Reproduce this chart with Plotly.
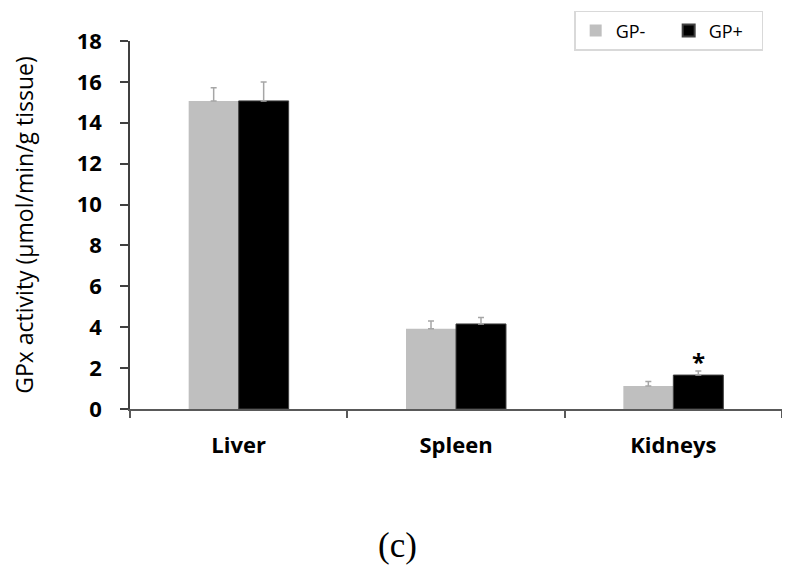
import plotly.graph_objects as go

categories = ["Liver", "Spleen", "Kidneys"]
gp_minus = [15.07, 3.93, 1.13]
gp_minus_err = [0.64, 0.37, 0.21]
gp_plus = [15.07, 4.16, 1.66]
gp_plus_err = [0.93, 0.31, 0.20]
y_ticks = [0, 2, 4, 6, 8, 10, 12, 14, 16, 18]

fig = go.Figure()
fig.add_trace(go.Bar(
    name="GP-", x=categories, y=gp_minus,
    marker=dict(color="#bfbfbf", line=dict(width=0)),
    error_y=dict(type="data", symmetric=False, array=gp_minus_err,
                 arrayminus=[0]*3, color="#a6a6a6", thickness=1.5, width=3),
))
fig.add_trace(go.Bar(
    name="GP+", x=categories, y=gp_plus,
    marker=dict(color="#000000", line=dict(width=1, color="#404040")),
    error_y=dict(type="data", symmetric=False, array=gp_plus_err,
                 arrayminus=[0]*3, color="#a6a6a6", thickness=1.5, width=3),
))

fig.add_annotation(x="Kidneys", y=gp_plus[2] + gp_plus_err[2], xshift=25,
                   yshift=-9, yanchor="bottom", text="<b>*</b>", showarrow=False,
                   font=dict(family="Open Sans", size=24, color="#000"))
fig.add_annotation(x=0.41, y=-0.43, xref="paper", yref="paper",
                   text="(c)", showarrow=False,
                   font=dict(family="Liberation Serif", size=35, color="#000"))

fig.update_layout(
    width=782, height=571,
    margin=dict(l=122, r=8, t=33, b=170, autoexpand=False),
    paper_bgcolor="white", plot_bgcolor="white",
    barmode="group", bargap=0.54, bargroupgap=0,
    showlegend=True,
    legend=dict(orientation="h", xref="container", yref="container",
                x=0.724, y=0.995, xanchor="left", yanchor="top",
                bordercolor="#d9d9d9", borderwidth=1.5,
                font=dict(family="Open Sans", size=18, color="#000"),
                entrywidth=48, itemwidth=30,
                itemsizing="constant", traceorder="normal"),
    font=dict(family="Open Sans", color="#000"),
)
fig.update_xaxes(
    showline=True, linecolor="#595959", linewidth=1.5,
    ticks="outside", tickson="boundaries", ticklen=7, tickcolor="#595959",
    tickwidth=1.5,
    tickfont=dict(family="Open Sans", size=22, color="#000", weight="bold"),
    ticklabelstandoff=16,
)
fig.update_yaxes(
    range=[0, 18], tickvals=y_ticks, showgrid=False, zeroline=False,
    showline=True, linecolor="#404040", linewidth=1.5,
    ticks="outside", ticklen=8, tickcolor="#404040", tickwidth=1.5,
    tickfont=dict(family="Open Sans", size=22, color="#000", weight="bold"),
    ticklabelstandoff=14,
    title=dict(text="GPx activity (µmol/min/g tissue)",
               font=dict(family="Open Sans", size=23, color="#000"), standoff=40),
)

fig.write_html("out.html")
